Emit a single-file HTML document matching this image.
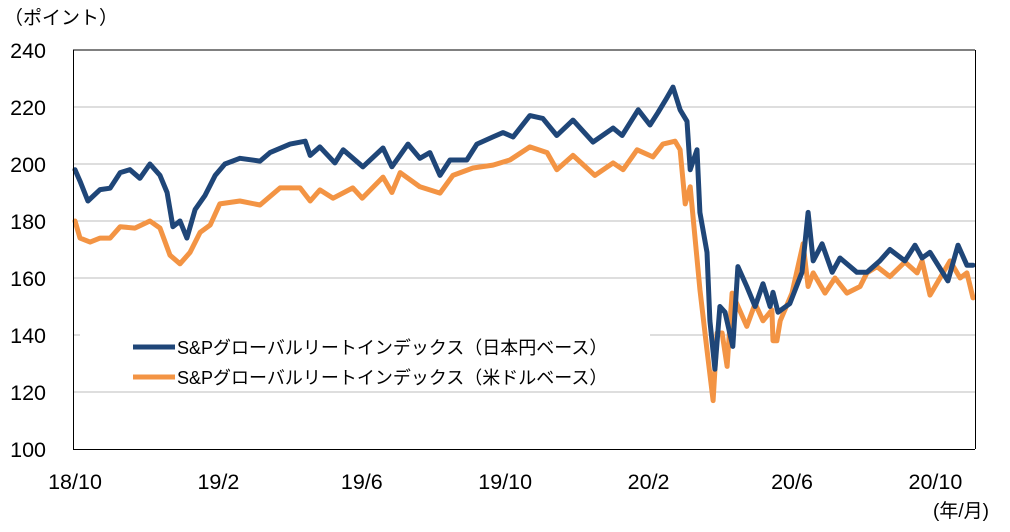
<!DOCTYPE html>
<html><head><meta charset="utf-8"><style>
body{margin:0;background:#fff;}
svg text{font-family:"Liberation Sans","Noto Sans CJK JP",sans-serif;fill:#000;}
</style></head><body>
<svg id="chart" width="1010" height="527" xmlns="http://www.w3.org/2000/svg">
<text x="4" y="24" font-size="19">（ポイント）</text>
<text x="933" y="517" font-size="19">(年/月)</text>
<g id="grid"></g><g id="ylab"></g><g id="xlab"></g>
<rect x="80" y="334" width="570" height="56" fill="#fff"/>
<g id="series"></g>
<line x1="73" y1="50" x2="975" y2="50" stroke="#000" stroke-width="1"/>
<line x1="73.5" y1="50" x2="73.5" y2="449" stroke="#000" stroke-width="1"/>
<line x1="975.5" y1="50" x2="975.5" y2="449" stroke="#000" stroke-width="1"/>
<line x1="73" y1="449.5" x2="975" y2="449.5" stroke="#000" stroke-width="1"/>
<g>
<line x1="133" y1="347" x2="175" y2="347" stroke="#1f4678" stroke-width="5"/>
<text x="177" y="354" font-size="18">S&amp;Pグローバルリートインデックス（日本円ベース）</text>
<line x1="133" y1="377" x2="175" y2="377" stroke="#f39444" stroke-width="5"/>
<text x="177" y="384" font-size="18">S&amp;Pグローバルリートインデックス（米ドルベース）</text>
</g>
</svg>
<script>
const yTicks=[100,120,140,160,180,200,220,240];
const xTickLabels=["18/10","19/2","19/6","19/10","20/2","20/6","20/10"];
const xTickMonths=[0,4,8,12,16,20,24];
const jpyMonths=[0,0.14,0.36,0.70,0.98,1.26,1.53,1.81,2.09,2.37,2.57,2.73,2.93,3.12,3.35,3.63,3.91,4.18,4.60,5.16,5.44,6.00,6.42,6.56,6.83,7.25,7.48,8.03,8.59,8.84,9.29,9.62,9.90,10.18,10.46,10.93,11.21,11.66,11.94,12.22,12.69,13.05,13.44,13.89,14.45,15.01,15.26,15.71,16.04,16.26,16.50,16.68,16.88,17.07,17.16,17.35,17.43,17.63,17.71,17.85,17.99,18.13,18.35,18.49,18.74,18.97,19.19,19.39,19.47,19.61,19.94,20.28,20.45,20.59,20.84,21.12,21.34,21.81,22.09,22.45,22.73,23.15,23.43,23.63,23.85,24.35,24.63,24.88,25.05];
const jpyValues=[198,194,187,191,191.5,197,198,195,200,196,190,178,180,174,184,189,196,200,202,201,204,207,208,203,206,200.4,205,199,205.6,199,207,202,204,196,201.4,201.4,207,209.5,211,209.5,217,216,210,215.4,207.7,212.6,210,219,213.7,218,223,227,219,215,198,205,183,169,145,128,150,148,136,164,157,150,158,150,155,148,151,162,183,166,172,162,167,162,162,166,170,166,171.5,167,169,159,171.5,164.5,164.5,156];
const usdMonths=[0,0.14,0.42,0.70,0.98,1.26,1.67,2.09,2.37,2.65,2.93,3.21,3.49,3.77,4.04,4.60,5.16,5.72,6.28,6.56,6.83,7.20,7.75,8.01,8.59,8.84,9.07,9.62,10.18,10.54,11.10,11.66,12.13,12.69,13.17,13.44,13.89,14.50,15.01,15.29,15.68,16.12,16.40,16.74,16.88,17.02,17.16,17.43,17.63,17.80,17.91,18.05,18.19,18.33,18.74,18.97,19.19,19.44,19.47,19.58,19.67,20.00,20.31,20.45,20.59,20.92,21.20,21.53,21.90,22.09,22.37,22.73,23.15,23.49,23.63,23.85,24.41,24.69,24.88,25.05];
const usdValues=[180,174,172.6,174,174,178,177.5,180,177.5,168,165,169,176,178.6,186,187,185.6,191.6,191.6,187,190.9,188,191.6,188,195.4,190,197,192,189.8,196,198.6,199.6,201.4,206,204,198,203,196,200.4,198,205,202.5,207,208,205,186,192,156,134.7,117,140.7,140.7,129,154.7,143,151,145,148.8,138,138,145,154.7,172,157,161.8,154.7,160,154.7,157,161.8,164,160.5,165.6,161.8,166,154,166,160,161.8,153];
const X0=75,XM=35.85,Y0=449,YS=57/20;
const xs=m=>Math.max(74,X0+m*XM);
const ys=v=>Y0-(v-100)*YS;
const NS="http://www.w3.org/2000/svg";
function mk(tag,attrs,parent,txt){const e=document.createElementNS(NS,tag);for(const k in attrs)e.setAttribute(k,attrs[k]);if(txt!==undefined)e.textContent=txt;document.getElementById(parent).appendChild(e);return e;}
yTicks.forEach(v=>{
  if(v>100&&v<240){const g=mk('line',{x1:74,x2:975,y1:ys(v),y2:ys(v),stroke:'#bdbdbd','stroke-width':1},'grid');
  
  }
  const t=mk('text',{x:46,y:ys(v)+8,'font-size':21.5,'text-anchor':'end'},'ylab',String(v));
  
  
});
xTickLabels.forEach((l,i)=>{
  const t=mk('text',{x:xs(xTickMonths[i]),y:489,'font-size':21.5,'text-anchor':'middle'},'xlab',l);
  
  
});
function line(ms,vs,color,name){
  const d=ms.map((m,i)=>(i?'L':'M')+xs(m).toFixed(1)+','+ys(vs[i]).toFixed(1)).join('');
  const p=mk('path',{d:d,fill:'none',stroke:color,'stroke-width':5,'stroke-linejoin':'round','stroke-linecap':'round'},'series');
  
  
}
line(usdMonths,usdValues,'#f39444','series-usd-line');
line(jpyMonths,jpyValues,'#1f4678','series-jpy-line');
</script>
</body></html>
